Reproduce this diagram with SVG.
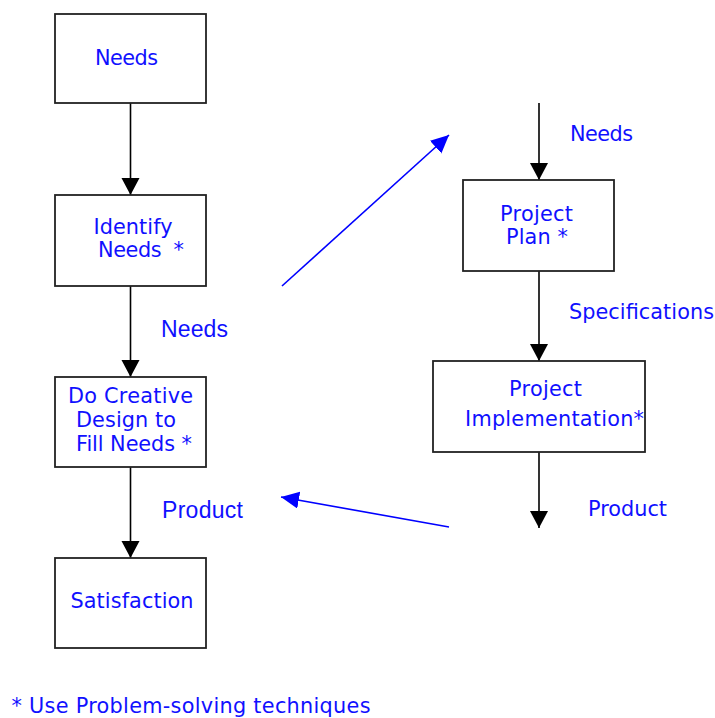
<svg xmlns="http://www.w3.org/2000/svg" width="715" height="718" viewBox="0 0 715 718">
<defs>
<marker id="ah" markerUnits="userSpaceOnUse" markerWidth="19" markerHeight="19" refX="17" refY="9" orient="auto">
<path d="M0,0 L17,9 L0,18 Z" fill="#000"/>
</marker>
<marker id="bh" markerUnits="userSpaceOnUse" markerWidth="19" markerHeight="19" refX="18" refY="8.5" orient="auto">
<path d="M0,0 L18,8.5 L0,17 Z" fill="#0000ff"/>
</marker>
</defs>
<style>
.box{fill:#fff;stroke:#222;stroke-width:1.8}
.t{font-family:"DejaVu Sans",Verdana,sans-serif;font-size:20.8px;fill:#1010ff}
.a{font-family:"Liberation Sans",Arial,sans-serif;font-size:23px;fill:#1010ff}
.c{stroke:#000;stroke-width:1.6;fill:none}
.b{stroke:#0000ff;stroke-width:1.6;fill:none}
</style>
<rect width="715" height="718" fill="#fff"/>
<g id="connectors">
<line class="c" x1="130.5" y1="103" x2="130.5" y2="195" marker-end="url(#ah)"/>
<line class="c" x1="130.5" y1="286" x2="130.5" y2="377" marker-end="url(#ah)"/>
<line class="c" x1="130.5" y1="467" x2="130.5" y2="558" marker-end="url(#ah)"/>
<line class="c" x1="539" y1="103" x2="539" y2="180" marker-end="url(#ah)"/>
<line class="c" x1="539" y1="271" x2="539" y2="361" marker-end="url(#ah)"/>
<line class="c" x1="539" y1="452" x2="539" y2="528" marker-end="url(#ah)"/>
<line class="b" x1="282" y1="286" x2="449" y2="135" marker-end="url(#bh)"/>
<line class="b" x1="449" y1="527" x2="281" y2="497" marker-end="url(#bh)"/>
<text class="a" x="161" y="337" textLength="67" lengthAdjust="spacing">Needs</text>
<text class="a" x="162" y="518" textLength="81" lengthAdjust="spacing">Product</text>
<text class="t" x="570" y="141" textLength="63" lengthAdjust="spacing">Needs</text>
<text class="t" x="569" y="319" textLength="145" lengthAdjust="spacing">Specifications</text>
<text class="t" x="588" y="516" textLength="79" lengthAdjust="spacing">Product</text>
</g>
<g id="needs">
<rect class="box" x="55" y="14" width="151" height="89"/>
<text class="t" x="95" y="65" textLength="63" lengthAdjust="spacing">Needs</text>
</g>
<g id="identify">
<rect class="box" x="55" y="195" width="151" height="91"/>
<text class="t" x="93.5" y="234" textLength="79" lengthAdjust="spacing">Identify</text>
<text class="t" x="98" y="257" xml:space="preserve" textLength="86" lengthAdjust="spacing">Needs  *</text>
</g>
<g id="design">
<rect class="box" x="55" y="377" width="151" height="90"/>
<text class="t" x="68" y="403" textLength="125" lengthAdjust="spacing">Do Creative</text>
<text class="t" x="76" y="427" textLength="100" lengthAdjust="spacing">Design to</text>
<text class="t" x="76" y="451" textLength="116" lengthAdjust="spacing">Fill Needs *</text>
</g>
<g id="satisfaction">
<rect class="box" x="55" y="558" width="151" height="90"/>
<text class="t" x="70.5" y="608" textLength="123" lengthAdjust="spacing">Satisfaction</text>
</g>
<g id="plan">
<rect class="box" x="463" y="180" width="151" height="91"/>
<text class="t" x="500" y="221" textLength="73" lengthAdjust="spacing">Project</text>
<text class="t" x="506" y="244" textLength="62" lengthAdjust="spacing">Plan *</text>
</g>
<g id="implementation">
<rect class="box" x="433" y="361" width="212" height="91"/>
<text class="t" x="509" y="396" textLength="73" lengthAdjust="spacing">Project</text>
<text class="t" x="465" y="426" textLength="179" lengthAdjust="spacing">Implementation*</text>
</g>
<text class="t" x="11.5" y="713" textLength="359" lengthAdjust="spacing">* Use Problem-solving techniques</text>
</svg>
